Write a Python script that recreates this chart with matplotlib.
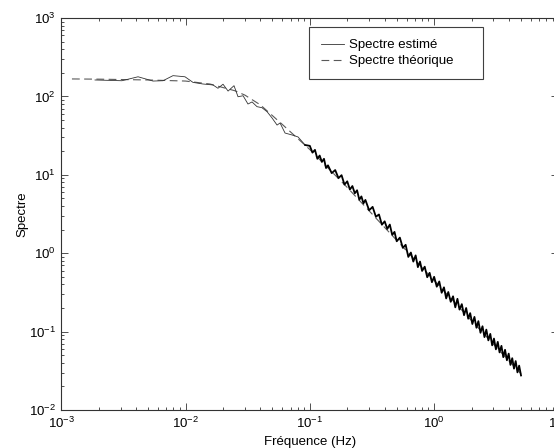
import matplotlib
matplotlib.use('Agg')
import matplotlib.pyplot as plt
from matplotlib.ticker import LogLocator, NullFormatter

plt.rcParams['font.family'] = ['Liberation Sans', 'DejaVu Sans']
plt.rcParams['mathtext.fontset'] = 'custom'
plt.rcParams['mathtext.rm'] = 'Liberation Sans'
plt.rcParams['mathtext.it'] = 'Liberation Sans:italic'
plt.rcParams['mathtext.bf'] = 'Liberation Sans:bold'
plt.rcParams['mathtext.default'] = 'regular'

# spectre estimé, partie basse fréquence
freq_bas = [0.00187, 0.00308, 0.00415, 0.00548, 0.00659, 0.00793, 0.0099,
            0.01148, 0.0138, 0.01663, 0.01824, 0.02003, 0.0220, 0.02455,
            0.02645, 0.02904, 0.0318, 0.0343, 0.0376, 0.0412, 0.0453,
            0.0497, 0.0545, 0.0576, 0.0632, 0.0720, 0.0804, 0.0916]
spec_bas = [162, 158.5, 178, 157, 158.5, 184, 178,
            151, 144, 140, 127, 143, 117, 137,
            99, 102, 80, 85, 74, 71.8, 63.8,
            53, 43.1, 45.8, 34.1, 32.2, 30.4, 24]

# spectre estimé, partie haute fréquence (bande bruitée)
freq_haut = [0.0916, 0.10, 0.105, 0.11, 0.115, 0.12, 0.125, 0.13, 0.135, 0.14, 0.15,
             0.16, 0.17, 0.18, 0.19, 0.20, 0.21, 0.22, 0.23, 0.24, 0.25,
             0.26, 0.27, 0.28, 0.30, 0.32, 0.34, 0.36, 0.38, 0.40, 0.42,
             0.44, 0.46, 0.48, 0.50, 0.53, 0.56, 0.59, 0.62, 0.65, 0.68,
             0.71, 0.74, 0.77, 0.80, 0.84, 0.88, 0.92, 0.96, 1.00, 1.05,
             1.10, 1.15, 1.20, 1.25, 1.30, 1.36, 1.42, 1.48, 1.54, 1.60,
             1.67, 1.74, 1.81, 1.88, 1.95, 2.03, 2.11, 2.19, 2.27, 2.36,
             2.45, 2.54, 2.63, 2.73, 2.83, 2.93, 3.03, 3.14, 3.25, 3.36,
             3.48, 3.60, 3.72, 3.85, 3.98, 4.11, 4.25, 4.39, 4.53, 4.68,
             4.83, 5.00]
spec_haut = [24, 23.4, 19.2, 20.8, 16.0, 17.6, 14.6, 16.0, 12.2, 13.2, 10.5,
             11.5, 9.08, 9.89, 7.50, 8.26, 6.49, 7.19, 5.81, 6.35, 4.81,
             5.30, 4.33, 4.78, 3.53, 3.90, 2.92, 3.12, 2.31, 2.55, 2.04,
             2.32, 1.71, 1.87, 1.42, 1.58, 1.17, 1.28, 0.897, 1.02, 0.782,
             0.938, 0.664, 0.782, 0.594, 0.673, 0.494, 0.562, 0.427, 0.500, 0.374,
             0.436, 0.313, 0.367, 0.265, 0.320, 0.240, 0.282, 0.204, 0.262, 0.191,
             0.224, 0.162, 0.200, 0.146, 0.172, 0.125, 0.154, 0.112, 0.136, 0.0966,
             0.117, 0.0851, 0.106, 0.0773, 0.0935, 0.0668, 0.0815, 0.0594, 0.0740, 0.0543,
             0.0658, 0.0472, 0.0586, 0.0431, 0.0524, 0.0376, 0.0458, 0.0337, 0.0421, 0.0302,
             0.0368, 0.0276]

# spectre théorique
freq_theo = [0.00122, 0.002, 0.005, 0.01, 0.0157, 0.025, 0.03, 0.04, 0.06,
             0.1, 0.2, 0.5, 1.0, 2.0, 5.0]
spec_theo = [167, 166, 162, 157, 144, 118, 104, 78, 44,
             21, 6.9, 1.46, 0.45, 0.138, 0.029]


def main():
    fig = plt.figure(figsize=(5.54, 4.48), dpi=100)
    ax = fig.add_axes([0.1105, 0.0848, 0.8975, 0.875])

    l1, = ax.loglog(freq_bas, spec_bas, color='0.2', lw=0.6, zorder=3,
                    label='Spectre estimé')
    ax.loglog(freq_haut, spec_haut, color='black', lw=1.3, zorder=3)
    l2, = ax.loglog(freq_theo, spec_theo, color='0.35', lw=0.8,
                    ls=(0, (7, 4)), zorder=2, label='Spectre théorique')

    ax.set_xlim(1e-3, 1e1)
    ax.set_ylim(1e-2, 1e3)

    for axis in (ax.xaxis, ax.yaxis):
        axis.set_major_locator(LogLocator(base=10, numticks=12))
        axis.set_minor_locator(LogLocator(base=10, subs=range(2, 10), numticks=12))
        axis.set_minor_formatter(NullFormatter())

    ax.tick_params(which='both', direction='in', top=True, right=True,
                   width=0.6, color='0.2', labelsize=9.5, pad=4)
    ax.tick_params(which='major', length=5)
    ax.tick_params(which='minor', length=2.5)
    for sp in ax.spines.values():
        sp.set_linewidth(0.8)
        sp.set_color('0.2')

    ax.set_xlabel('Fréquence (Hz)', fontsize=9.5, labelpad=4)
    ax.set_ylabel('Spectre', fontsize=9.5, labelpad=0)

    leg = ax.legend(handles=[l1, l2], loc='upper left',
                    bbox_to_anchor=(0.498, 0.837, 0.35, 0.14), mode='expand',
                    borderaxespad=0, fontsize=9.5, fancybox=False,
                    framealpha=1, edgecolor='0.25', borderpad=0.9,
                    labelspacing=0.3, handlelength=1.75, handletextpad=0.4)
    leg.get_frame().set_linewidth(0.8)

    fig.savefig('out.png', dpi=100)


if __name__ == '__main__':
    main()
